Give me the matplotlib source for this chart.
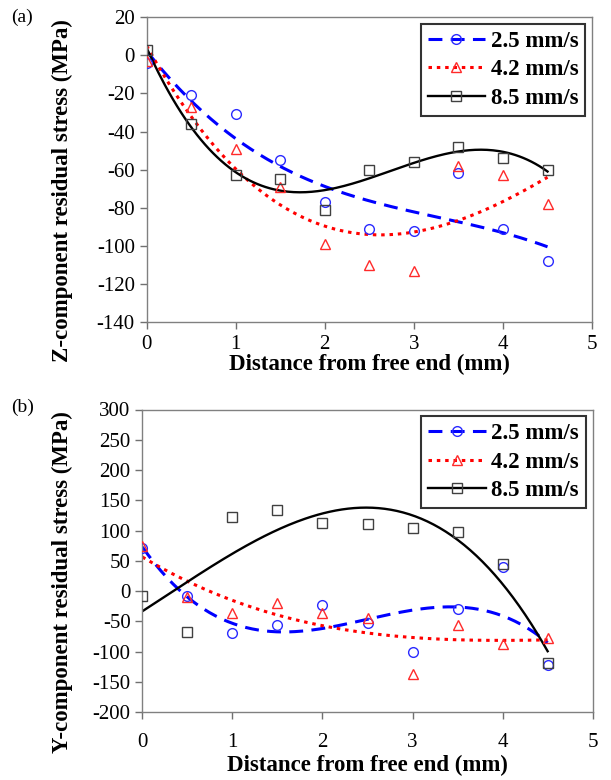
import numpy as np
import matplotlib.pyplot as plt
from matplotlib.lines import Line2D

plt.rcParams['font.family'] = ['Liberation Serif', 'DejaVu Serif']
plt.rcParams['lines.scale_dashes'] = False
plt.rcParams['axes.unicode_minus'] = False

# distance from free end (mm)
dist = [0, 0.5, 1, 1.5, 2, 2.5, 3, 3.5, 4, 4.5]
speeds = ['2.5 mm/s', '4.2 mm/s', '8.5 mm/s']

# (a) Z-component residual stress (MPa)
z_25 = [-4, -21, -31, -55, -77, -91, -92, -62, -91, -108]
z_42 = [-3, -27, -49, -69, -99, -110, -113, -58, -63, -78]
z_85 = [3, -36, -63, -65, -81, -60, -56, -48, -54, -60]

# (b) Y-component residual stress (MPa)
y_25 = [72, -8, -69, -56, -23, -53, -100, -30, 39, -122]
y_42 = [74, -9, -36, -19, -37, -44, -137, -56, -87, -77]
y_85 = [-8, -67, 122, 134, 113, 111, 104, 98, 44, -118]

colors = ['#2a2aff', '#ff2a2a', '#404040']
line_colors = ['blue', 'red', 'black']
markers = ['o', '^', 's']
dashes = [(10, 6), (2.5, 3.5), None]
widths = [2.2, 2.2, 1.7]


def draw_panel(ax, series, ylim, yticks, ylabel, xpad, ylab_xy, xlabpad):
    x = np.array(dist)
    xs = np.linspace(0, 4.5, 200)
    for i, ys in enumerate(series):
        # cubic trendline through the measured points
        coef = np.polyfit(x, ys, 3)
        ln, = ax.plot(xs, np.polyval(coef, xs), color=line_colors[i], lw=widths[i], zorder=2)
        if dashes[i] is not None:
            ln.set_dashes(dashes[i])
            ln.set_dash_capstyle('butt')
        ax.plot(x, ys, linestyle='none', marker=markers[i], ms=7,
                mfc='none', mec=colors[i], mew=1, zorder=3)

    ax.set_xlim(0, 5)
    ax.set_ylim(*ylim)
    ax.set_xticks(range(6))
    ax.set_yticks(yticks)
    ax.tick_params(labelsize=15, direction='out', length=5, color='#707070', width=1)
    ax.tick_params(axis='x', pad=xpad)
    for sp in ax.spines.values():
        sp.set_color('#808080')
        sp.set_linewidth(1)
    ax.set_xlabel('Distance from free end (mm)', fontsize=16.5, fontweight='bold',
                  labelpad=xlabpad)
    ax.set_ylabel(ylabel, fontsize=16.5, fontweight='bold')
    ax.yaxis.set_label_coords(*ylab_xy)

    handles = []
    for i in range(3):
        h = Line2D([], [], color=line_colors[i], lw=widths[i], marker=markers[i], ms=7,
                   mfc='none', mec=colors[i], mew=1)
        if dashes[i] is not None:
            h.set_dashes(dashes[i])
        handles.append(h)
    leg = ax.legend(handles, speeds, loc='upper right',
                    prop={'weight': 'bold', 'size': 16.5}, frameon=True, fancybox=False,
                    borderpad=0.3, labelspacing=0.32, handlelength=2.5, handletextpad=0.25,
                    borderaxespad=0.3)
    leg.get_frame().set_edgecolor('black')
    leg.get_frame().set_linewidth(1.5)


fig = plt.figure(figsize=(6.11, 7.8), dpi=100)
ax1 = fig.add_axes([0.240, 0.587, 0.729, 0.391])
ax2 = fig.add_axes([0.233, 0.087, 0.737, 0.388])

draw_panel(ax1, [z_25, z_42, z_85], (-140, 20), range(-140, 21, 20),
           'Z-component residual stress (MPa)', 4, (-0.166, 0.43), 0)
draw_panel(ax2, [y_25, y_42, y_85], (-200, 300), range(-200, 301, 50),
           'Y-component residual stress (MPa)', 10, (-0.155, 0.431), 2)

fig.text(0.018, 1 - 17 / 780, '(a)', fontsize=14, va='center', ha='left')
fig.text(0.018, 1 - 407 / 780, '(b)', fontsize=14, va='center', ha='left')

fig.savefig('out.png', dpi=100)
